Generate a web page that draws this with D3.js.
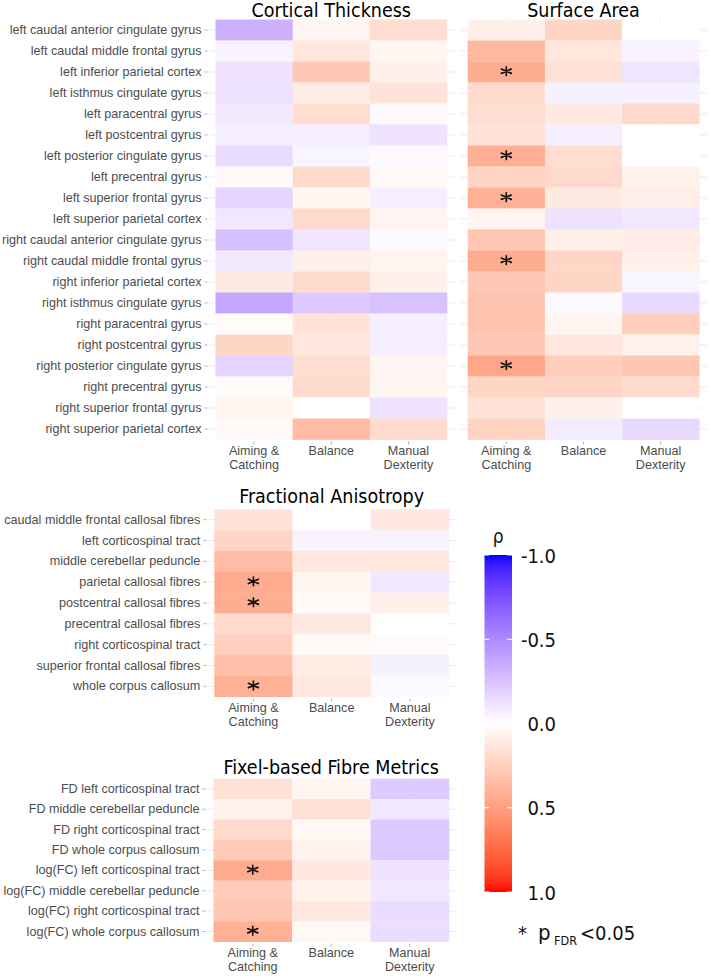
<!DOCTYPE html>
<html>
<head>
<meta charset="utf-8">
<script src="https://cdn.jsdelivr.net/npm/d3@7"></script>
<style>
  html, body { margin: 0; padding: 0; background: #fff; }
  svg { display: block; }
</style>
</head>
<body>
<script>
// ---------------- DATA ----------------
const tests = ["Aiming & Catching", "Balance", "Manual Dexterity"];
const testLabels = [["Aiming &", "Catching"], ["Balance"], ["Manual", "Dexterity"]];

const corticalRegions = [
  "left caudal anterior cingulate gyrus", "left caudal middle frontal gyrus",
  "left inferior parietal cortex", "left isthmus cingulate gyrus",
  "left paracentral gyrus", "left postcentral gyrus",
  "left posterior cingulate gyrus", "left precentral gyrus",
  "left superior frontal gyrus", "left superior parietal cortex",
  "right caudal anterior cingulate gyrus", "right caudal middle frontal gyrus",
  "right inferior parietal cortex", "right isthmus cingulate gyrus",
  "right paracentral gyrus", "right postcentral gyrus",
  "right posterior cingulate gyrus", "right precentral gyrus",
  "right superior frontal gyrus", "right superior parietal cortex"
];

// rho values: [Aiming & Catching, Balance, Manual Dexterity]
const thicknessRho = [
  [-0.33, 0.05, 0.18], [-0.05, 0.13, 0.05], [-0.12, 0.29, 0.08], [-0.12, 0.10, 0.15],
  [-0.09, 0.18, -0.02], [-0.065, -0.07, -0.12], [-0.15, -0.04, -0.02], [0.03, 0.19, 0.03],
  [-0.18, 0.05, -0.065], [-0.10, 0.20, 0.06], [-0.27, -0.11, -0.02], [-0.09, 0.08, 0.06],
  [0.11, 0.19, 0.08], [-0.37, -0.23, -0.26], [0.02, 0.15, -0.065], [0.22, 0.13, -0.07],
  [-0.18, 0.18, 0.05], [0.02, 0.19, 0.05], [0.05, 0.00, -0.12], [0.03, 0.36, 0.19]
];
const areaRho = [
  [0.08, 0.22, 0.00], [0.37, 0.13, -0.05], [0.43, 0.16, -0.11], [0.19, -0.06, -0.06],
  [0.18, 0.11, 0.20], [0.15, -0.07, 0.00], [0.42, 0.18, 0.00], [0.22, 0.20, 0.07],
  [0.41, 0.11, 0.09], [0.06, -0.12, -0.10], [0.30, 0.08, 0.10], [0.43, 0.22, 0.08],
  [0.29, 0.22, -0.04], [0.31, -0.02, -0.16], [0.31, 0.05, 0.26], [0.29, 0.13, 0.07],
  [0.46, 0.26, 0.30], [0.23, 0.22, 0.19], [0.15, 0.08, 0.00], [0.24, -0.08, -0.16]
];
// significant cells [row, column]
const thicknessSig = [];
const areaSig = [[2, 0], [6, 0], [8, 0], [11, 0], [16, 0]];

const faTracts = [
  "caudal middle frontal callosal fibres", "left corticospinal tract",
  "middle cerebellar peduncle", "parietal callosal fibres",
  "postcentral callosal fibres", "precentral callosal fibres",
  "right corticospinal tract", "superior frontal callosal fibres",
  "whole corpus callosum"
];
const faRho = [
  [0.15, 0.00, 0.12], [0.22, -0.05, -0.05], [0.36, 0.12, 0.13],
  [0.44, 0.05, -0.10], [0.43, 0.03, 0.08], [0.20, 0.12, 0.00],
  [0.25, 0.03, 0.02], [0.34, 0.10, -0.06], [0.41, 0.12, -0.03]
];
const faSig = [[3, 0], [4, 0], [8, 0]];

const fixelMetrics = [
  "FD left corticospinal tract", "FD middle cerebellar peduncle",
  "FD right corticospinal tract", "FD whole corpus callosum",
  "log(FC) left corticospinal tract", "log(FC) middle cerebellar peduncle",
  "log(FC) right corticospinal tract", "log(FC) whole corpus callosum"
];
const fixelRho = [
  [0.16, 0.05, -0.22], [0.07, 0.16, -0.10], [0.20, 0.04, -0.22], [0.28, 0.07, -0.22],
  [0.44, 0.12, -0.12], [0.27, 0.07, -0.10], [0.30, 0.12, -0.14], [0.41, 0.04, -0.14]
];
const fixelSig = [[4, 0], [7, 0]];

const legendBreaks = [-1.0, -0.5, 0.0, 0.5, 1.0];
const legendTitle = "ρ";

// ---------------- DRAWING ----------------
const W = 709, H = 976;
const svg = d3.select("body").append("svg").attr("width", W).attr("height", H);

const toBlue = d3.interpolateLab("#ffffff", "#0000ff");
const toRed = d3.interpolateLab("#ffffff", "#ff0000");
const fill = v => v < 0 ? toBlue(Math.min(1, -v)) : toRed(Math.min(1, v));

const axisFont = "'Liberation Sans', Arial, sans-serif";
const titleFont = "'DejaVu Sans Condensed', 'DejaVu Sans', sans-serif";

// six-armed asterisk symbol
const asterisk = {
  draw(ctx, size) {
    const ry = Math.sqrt(size) / 2, rx = ry * 1.15;
    ctx.moveTo(0, -ry); ctx.lineTo(0, ry);
    ctx.moveTo(-rx, -ry * 0.5); ctx.lineTo(rx, ry * 0.5);
    ctx.moveTo(-rx, ry * 0.5); ctx.lineTo(rx, -ry * 0.5);
  }
};
const starPath = d3.symbol().type(asterisk).size(74)();

const panels = [
  { title: "Cortical Thickness", rows: corticalRegions, values: thicknessRho, sig: thicknessSig,
    x0: 215.5, x1: 447, y0: 19.5, y1: 439.5, titleY: 16.5, showY: true },
  { title: "Surface Area", rows: corticalRegions, values: areaRho, sig: areaSig,
    x0: 467.7, x1: 699.3, y0: 19.5, y1: 439.5, titleY: 16.5, showY: false },
  { title: "Fractional Anisotropy", rows: faTracts, values: faRho, sig: faSig,
    x0: 214.3, x1: 449, y0: 509.3, y1: 696.7, titleY: 503, showY: true },
  { title: "Fixel-based Fibre Metrics", rows: fixelMetrics, values: fixelRho, sig: fixelSig,
    x0: 213.5, x1: 449, y0: 778.7, y1: 941.7, titleY: 773.5, showY: true }
];

panels.forEach(p => {
  const g = svg.append("g");
  const x = d3.scaleBand().domain(tests).range([p.x0, p.x1]).padding(0);
  const y = d3.scaleBand().domain(p.rows).range([p.y0, p.y1]).padding(0);

  // grid lines
  g.selectAll("line.hgrid").data(p.rows).join("line")
    .attr("x1", p.x0 - 7).attr("x2", p.x1 + 8)
    .attr("y1", d => y(d) + y.bandwidth() / 2).attr("y2", d => y(d) + y.bandwidth() / 2)
    .attr("stroke", "#e6e6e6").attr("stroke-width", 0.8);
  g.selectAll("line.vgrid").data(tests).join("line")
    .attr("x1", d => x(d) + x.bandwidth() / 2).attr("x2", d => x(d) + x.bandwidth() / 2)
    .attr("y1", p.y0 - 6).attr("y2", p.y1 + 1)
    .attr("stroke", "#eeeeee").attr("stroke-width", 0.8);

  // tiles
  const cells = [];
  p.values.forEach((row, i) => row.forEach((v, j) => cells.push({ r: p.rows[i], c: tests[j], v })));
  g.selectAll("rect.cell").data(cells).join("rect")
    .attr("x", d => x(d.c)).attr("y", d => y(d.r))
    .attr("width", x.bandwidth() + 0.3).attr("height", y.bandwidth() + 0.3)
    .attr("fill", d => fill(d.v));

  // significance stars
  g.selectAll("path.star").data(p.sig).join("path")
    .attr("transform", d => `translate(${x(tests[d[1]]) + x.bandwidth() / 2},${y(p.rows[d[0]]) + y.bandwidth() / 2 - 0.8})`)
    .attr("d", starPath)
    .attr("fill", "none").attr("stroke", "#111").attr("stroke-width", 1.7)
    .attr("stroke-linecap", "round");

  // y axis
  if (p.showY) {
    const ya = d3.axisLeft(y).tickSize(3).tickPadding(3);
    const yg = g.append("g").attr("transform", `translate(${p.x0 - 8},0)`).call(ya);
    yg.select(".domain").remove();
    yg.selectAll(".tick line").attr("stroke", "#b3b3b3");
    yg.selectAll(".tick text").attr("font-family", axisFont).attr("font-size", 12.6)
      .attr("fill", "#4d4d4d");
  }

  // x axis
  const xt = g.selectAll("g.xtick").data(tests).join("g")
    .attr("transform", d => `translate(${x(d) + x.bandwidth() / 2},${p.y1})`);
  xt.append("line").attr("y1", 2).attr("y2", 5).attr("stroke", "#b3b3b3");
  xt.append("text")
    .attr("text-anchor", "middle").attr("font-family", axisFont).attr("font-size", 12.6)
    .attr("fill", "#4d4d4d")
    .selectAll("tspan").data((d, i) => testLabels[i]).join("tspan")
    .attr("x", 0).attr("y", (d, i) => 15.5 + i * 14).text(d => d);

  // title
  g.append("text").attr("x", (p.x0 + p.x1) / 2).attr("y", p.titleY)
    .attr("text-anchor", "middle").attr("font-family", titleFont)
    .attr("font-size", 19.5).attr("fill", "#000").text(p.title);
});

// ---------------- LEGEND ----------------
const lg = svg.append("g");
const barX = 484.5, barW = 27.5;
const ly = d3.scaleLinear().domain([-1, 1]).range([555, 892]);

const defs = svg.append("defs");
const grad = defs.append("linearGradient").attr("id", "rhoGrad")
  .attr("x1", 0).attr("x2", 0).attr("y1", 0).attr("y2", 1);
d3.range(0, 41).forEach(k => {
  const v = -1 + k / 20;
  grad.append("stop").attr("offset", `${k / 40 * 100}%`).attr("stop-color", fill(v));
});
lg.append("rect").attr("x", barX).attr("y", ly(-1)).attr("width", barW)
  .attr("height", ly(1) - ly(-1)).attr("fill", "url(#rhoGrad)");

legendBreaks.forEach(b => {
  lg.append("line").attr("x1", barX).attr("x2", barX + 5).attr("y1", ly(b)).attr("y2", ly(b))
    .attr("stroke", "#fff").attr("stroke-width", 1);
  lg.append("line").attr("x1", barX + barW - 5).attr("x2", barX + barW).attr("y1", ly(b)).attr("y2", ly(b))
    .attr("stroke", "#fff").attr("stroke-width", 1);
});
lg.selectAll("text.lab").data(legendBreaks).join("text")
  .attr("x", 556).attr("y", d => ly(d) + 7.5)
  .attr("text-anchor", "end").attr("font-family", titleFont).attr("font-size", 20)
  .attr("fill", "#111").text(d => d3.format(".1f")(d).replace("−", "-"));
lg.append("text").attr("x", barX + barW / 2).attr("y", 543)
  .attr("text-anchor", "middle").attr("font-family", titleFont).attr("font-size", 19)
  .attr("fill", "#111").text(legendTitle);

const note = lg.append("text").attr("x", 518).attr("y", 940)
  .attr("font-family", titleFont).attr("font-size", 20).attr("fill", "#111");
note.append("tspan").text("*");
note.append("tspan").attr("x", 538).attr("font-size", 22).text("p");
note.append("tspan").attr("x", 554).attr("font-size", 12.5).attr("dy", 5).text("FDR");
note.append("tspan").attr("x", 580).attr("dy", -5).text("<0.05");
</script>
</body>
</html>
